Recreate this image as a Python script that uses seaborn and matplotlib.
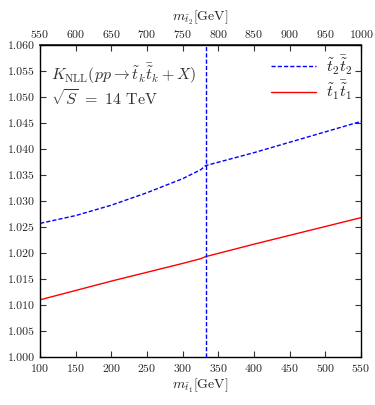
import numpy as np
import pandas as pd
import seaborn as sns
import matplotlib.pyplot as plt

# ---------------------------------------
# Data
# ---------------------------------------
m_t1 = [100, 150, 200, 250, 300, 325, 332, 400, 450, 500, 550]
k_t2t2 = [1.0257, 1.0272, 1.0292, 1.0316, 1.0343, 1.0360, 1.0368, 1.0393, 1.0413, 1.0433, 1.0453]
k_t1t1 = [1.0110, 1.0128, 1.0146, 1.0163, 1.0180, 1.0189, 1.0193, 1.0217, 1.0234, 1.0251, 1.0268]
m_split = 332          # kinematic threshold (vertical line)
mass_offset = 450      # m_t2 = m_t1 + 450 GeV
top_ticks = [550, 600, 650, 700, 750, 800, 850, 900, 950, 1000]

df = pd.DataFrame({"m": m_t1, "t2t2": k_t2t2, "t1t1": k_t1t1})

# ---------------------------------------
# Style
# ---------------------------------------
sns.set_theme(style="ticks")
plt.rcParams["font.family"] = ["cmr10", "DejaVu Serif"]
plt.rcParams["mathtext.fontset"] = "cm"
plt.rcParams["axes.formatter.use_mathtext"] = True

fig = plt.figure(figsize=(3.75, 4.05), dpi=100)
ax = fig.add_axes([0.107, 0.1185, 0.856, 0.7705])

sns.lineplot(data=df, x="m", y="t2t2", ax=ax, color="#0000ff", lw=1.0,
             linestyle=(0, (3, 1.5)), label=r"$\tilde{t}_2\bar{\tilde{t}}_2$")
sns.lineplot(data=df, x="m", y="t1t1", ax=ax, color="#ff0000", lw=1.0,
             label=r"$\tilde{t}_1\bar{\tilde{t}}_1$")
ax.axvline(m_split, color="#0000ff", lw=1.0, linestyle=(0, (3, 1.5)))

ax.set_xlim(100, 550)
ax.set_ylim(1.0, 1.06)
ax.set_xticks(np.arange(100, 551, 50))
ax.set_yticks(np.arange(1.0, 1.0601, 0.005))
ax.set_yticklabels([f"{v:.3f}" for v in np.arange(1.0, 1.0601, 0.005)])
ax.tick_params(direction="in", length=4, width=0.8, labelsize=8.5, top=False, right=True, color="#333333")
for s in ax.spines.values():
    s.set_linewidth(1.0)
    s.set_color("black")

ax.set_xlabel(r"$m_{\tilde{t}_1}$[GeV]", fontsize=10, labelpad=2)
ax.set_ylabel("")

sec = ax.secondary_xaxis("top", functions=(lambda x: x + mass_offset, lambda x: x - mass_offset))
sec.set_xticks(top_ticks)
sec.tick_params(direction="in", length=4, width=0.8, labelsize=8.5, color="#333333")
sec.set_xlabel(r"$m_{\tilde{t}_2}$[GeV]", fontsize=10, labelpad=5)

ax.text(0.035, 0.945, r"$K_{\rm NLL}(pp\rightarrow\tilde{t}_k\bar{\tilde{t}}_k+X)$",
        transform=ax.transAxes, fontsize=11.5, va="top", color="#333333")
ax.text(0.035, 0.86, r"$\sqrt{S}\ =\ 14$ TeV",
        transform=ax.transAxes, fontsize=11.5, va="top", color="#333333")

leg = ax.legend(loc="upper right", frameon=False, fontsize=11.5, handlelength=2.8,
                borderaxespad=0.15, labelspacing=0.15, handletextpad=0.6)

fig.savefig("out.png", dpi=100)
